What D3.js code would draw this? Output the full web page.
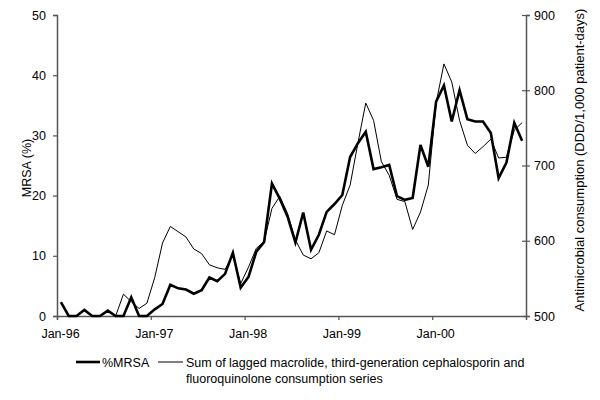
<!DOCTYPE html>
<html><head><meta charset="utf-8">
<script src="https://cdn.jsdelivr.net/npm/d3@7"></script>
<style>body{margin:0;background:#fff}svg{display:block;font-family:"Liberation Sans",Arial,sans-serif}</style>
</head><body><svg id="c" width="600" height="400"></svg>
<script>
const xTickLabels = ["Jan-96","Jan-97","Jan-98","Jan-99","Jan-00"];
const leftTicks = [0,10,20,30,40,50];
const rightTicks = [500,600,700,800,900];
const mrsa = [2.3,0,0,1.0,0,0,0.9,0,0,3.1,0,0,
  1.1,2.0,5.2,4.6,4.4,3.7,4.3,6.4,5.8,7.0,10.5,4.7,
  6.5,10.7,12.3,22.0,19.5,16.5,12.2,17.2,11.0,13.5,17.3,18.6,
  20.1,26.4,28.7,30.6,24.4,24.7,25.1,19.9,19.3,19.6,28.4,24.8,
  35.6,38.3,32.3,37.5,32.7,32.3,32.3,30.4,22.9,25.5,32.1,29.1];
const consumption = [null,null,null,null,null,null,null,500,529,519,510,517,
  551,597,619,612,605,589,583,568,564,562,581,543,
  565,590,599,643,659,636,601,581,576,584,613,608,
  647,674,730,783,760,705,687,655,652,615,638,674,
  783,835,811,760,727,716,725,735,710,711,747,757];
const legendLabels = ["%MRSA","Sum of lagged macrolide, third-generation cephalosporin and","fluoroquinolone consumption series"];

const FS = 12.5;
const svg = d3.select("#c");
const L = 57, R = 526, T = 15, B = 316;
const x = d3.scaleLinear().domain([0,60]).range([L,R]);
const yL = d3.scaleLinear().domain([0,50]).range([B,T]);
const yR = d3.scaleLinear().domain([500,900]).range([B,T]);
const axisColor = "#555";

// x axis
const gx = svg.append("g").attr("transform",`translate(0,${B})`)
  .call(d3.axisBottom(x).tickValues([0,12,24,36,48]).tickFormat((d,i)=>xTickLabels[i]).tickSize(4).tickPadding(9));
gx.selectAll(".tick text").attr("dx",3);
// left axis
const gl = svg.append("g").attr("transform",`translate(${L},0)`)
  .call(d3.axisLeft(yL).tickValues(leftTicks).tickSize(4).tickPadding(7));
// right axis
const gr = svg.append("g").attr("transform",`translate(${R},0)`)
  .call(d3.axisRight(yR).tickValues(rightTicks).tickSize(4).tickPadding(4));
gr.selectAll(".tick").append("line").attr("x1",-4).attr("x2",0).attr("stroke",axisColor).attr("stroke-width",1.2);

[gx,gl,gr].forEach(g=>{
  g.select(".domain").attr("stroke",axisColor).attr("stroke-width",1.5);
  g.selectAll(".tick line").attr("stroke",axisColor).attr("stroke-width",1.2);
  g.selectAll("text").attr("font-size",FS).attr("fill","#000").attr("font-family",'"Liberation Sans",Arial,sans-serif');
});

// axis titles
svg.append("text").attr("transform",`translate(31,168) rotate(-90)`)
  .attr("text-anchor","middle").attr("font-size",FS).text("MRSA (%)");
svg.append("text").attr("transform",`translate(584,160) rotate(-90)`)
  .attr("text-anchor","middle").attr("font-size",13).text("Antimicrobial consumption (DDD/1,000 patient-days)");

// lines
const lineL = d3.line().defined(d=>d!=null).x((d,i)=>x(i+0.5)).y(d=>yL(d));
const lineR = d3.line().defined(d=>d!=null).x((d,i)=>x(i+0.5)).y(d=>yR(d));
svg.append("path").datum(consumption).attr("d",lineR).attr("fill","none").attr("stroke","#000").attr("stroke-width",1);
svg.append("path").datum(mrsa).attr("d",lineL).attr("fill","none").attr("stroke","#000").attr("stroke-width",2.6).attr("stroke-linejoin","miter");

// legend
const ly = 362;
const lg = svg.append("g");
lg.append("line").attr("x1",76).attr("x2",100).attr("y1",ly).attr("y2",ly).attr("stroke","#000").attr("stroke-width",2.6);
lg.append("text").attr("x",102).attr("y",ly+4.5).attr("font-size",FS).text(legendLabels[0]);
lg.append("line").attr("x1",158).attr("x2",183).attr("y1",ly).attr("y2",ly).attr("stroke","#000").attr("stroke-width",1);
lg.append("text").attr("x",186).attr("y",ly+4.5).attr("font-size",FS).text(legendLabels[1]);
lg.append("text").attr("x",186).attr("y",ly+21).attr("font-size",FS).text(legendLabels[2]);
</script></body></html>
